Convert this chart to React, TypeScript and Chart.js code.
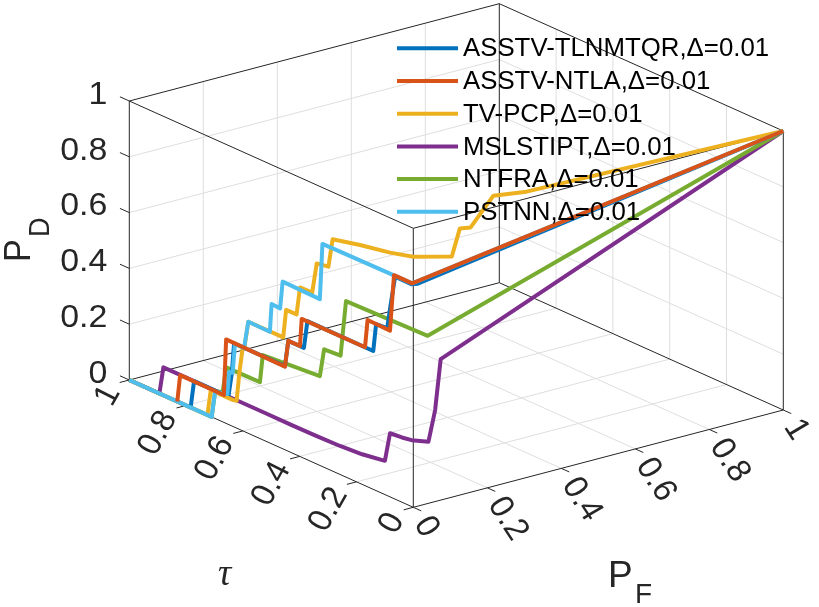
import { useEffect, useRef } from "react";
import { Chart, registerables } from "chart.js";

Chart.register(...registerables);

// each row is [P_F, tau, P_D]
const tlnmtqrCurve = [
  [0, 1, 0], [0, 0.784, 0], [0, 0.772, 0.1], [0, 0.651, 0.1], [0, 0.639, 0.189], [0, 0.631, 0.3],
  [0, 0.452, 0.3], [0, 0.44, 0.396], [0, 0.385, 0.396], [0, 0.373, 0.497], [0, 0.141, 0.496],
  [0, 0.131, 0.597], [0, 0.092, 0.6], [0, 0.079, 0.695], [0, 0.064, 0.797], [0, 0.005, 0.797],
  [0.012, 0, 0.797], [1, 0, 1],
];
const ntlaCurve = [
  [0, 0.831, 0], [0, 0.821, 0.099], [0, 0.667, 0.098], [0, 0.659, 0.301], [0, 0.452, 0.298],
  [0, 0.44, 0.396], [0, 0.399, 0.396], [0, 0.393, 0.496], [0, 0.17, 0.496], [0, 0.161, 0.598],
  [0, 0.082, 0.596], [0, 0.068, 0.801], [0, 0.004, 0.801], [1, 0, 1],
];
const tvPcpCurve = [
  [0, 1, 0], [0, 0.725, 0], [0, 0.713, 0.095], [0, 0.634, 0.095], [0, 0.622, 0.098], [0, 0.613, 0.197],
  [0, 0.601, 0.296], [0, 0.595, 0.3], [0, 0.581, 0.4], [0, 0.458, 0.4], [0, 0.448, 0.503],
  [0, 0.411, 0.504], [0, 0.399, 0.606], [0, 0.356, 0.607], [0, 0.34, 0.719], [0, 0.299, 0.726],
  [0.033, 0.327, 0.8], [0.058, 0.263, 0.8], [0.08, 0.186, 0.8], [0.104, 0.136, 0.8], [0.17, 0.086, 0.8],
  [0.185, 0.077, 0.9], [0.207, 0.068, 0.9], [0.271, 0.071, 0.99], [0.332, 0.034, 1], [1, 0, 1],
];
const mslstiptCurve = [
  [0, 1, 0], [0, 0.894, 0], [0, 0.88, 0.1], [0, 0.622, 0.1], [0, 0.52, 0.1], [0, 0.434, 0.099],
  [0, 0.34, 0.1], [0, 0.258, 0.102], [0, 0.18, 0.108], [0, 0.1, 0.121], [0, 0.082, 0.228],
  [0, 0.04, 0.232], [0, 0.006, 0.238], [0.041, 0, 0.221], [0.059, 0, 0.328], [0.074, 0, 0.505], [1, 0, 1],
];
const ntfraCurve = [
  [0, 1, 0], [0, 0.71, 0], [0, 0.698, 0.096], [0, 0.671, 0.108], [0, 0.659, 0.201], [0, 0.54, 0.202],
  [0, 0.53, 0.304], [0, 0.329, 0.32], [0, 0.314, 0.423], [0, 0.256, 0.427], [0, 0.237, 0.631],
  [0.039, 0, 0.601], [1, 0, 1],
];
const pstnnCurve = [
  [0, 1, 0], [0, 0.71, 0], [0, 0.698, 0.096], [0, 0.655, 0.107], [0, 0.648, 0.19], [0, 0.636, 0.192],
  [0, 0.628, 0.299], [0, 0.596, 0.298], [0, 0.581, 0.4], [0, 0.505, 0.399], [0, 0.499, 0.501],
  [0, 0.469, 0.499], [0, 0.46, 0.599], [0, 0.329, 0.596], [0, 0.32, 0.798], [0, 0.004, 0.801], [1, 0, 1],
];

const seriesNames = [
  "ASSTV-TLNMTQR,Δ=0.01",
  "ASSTV-NTLA,Δ=0.01",
  "TV-PCP,Δ=0.01",
  "MSLSTIPT,Δ=0.01",
  "NTFRA,Δ=0.01",
  "PSTNN,Δ=0.01",
];
const seriesCurves = [tlnmtqrCurve, ntlaCurve, tvPcpCurve, mslstiptCurve, ntfraCurve, pstnnCurve];
const seriesColors = ["#0072BD", "#D95319", "#EDB120", "#7E2F8E", "#77AC30", "#4DBEEE"];
const seriesOrder = [5, 1, 4, 7, 6, 2]; // lower is painted later

const tickValues = [0, 0.2, 0.4, 0.6, 0.8, 1];
const tickLabels = ["0", "0.2", "0.4", "0.6", "0.8", "1"];

const TEXT_COLOR = "#262626";
const GRID_COLOR = "#dedede";
const STRETCH = 1.06; // the reference was stretched sideways
const LINE_WIDTH = 4;

// orthographic view of the unit cube, in chart units
const project = (pf: number, tau: number, pd: number) => ({
  x: 370 * pf - 284 * tau,
  y: 97.3 * pf + 127.3 * tau + 279 * pd,
});

const makeLine = (rows: number[][], color: string, width: number, order: number) => ({
  data: rows.map((r) => project(r[0], r[1], r[2])),
  borderColor: color,
  borderWidth: width,
  showLine: true,
  pointRadius: 0,
  order,
  borderJoinStyle: "round" as const,
});

const gridSegments = () => {
  const out: number[][][] = [];
  tickValues.slice(1, 5).forEach((v) => {
    out.push([[v, 0, 0], [v, 1, 0]]);
    out.push([[0, v, 0], [1, v, 0]]);
    out.push([[v, 1, 0], [v, 1, 1]]);
    out.push([[1, v, 0], [1, v, 1]]);
    out.push([[0, 1, v], [1, 1, v]]);
    out.push([[1, 0, v], [1, 1, v]]);
  });
  return out;
};

const boxSegments = () => {
  const out: number[][][] = [];
  [0, 1].forEach((a) => {
    [0, 1].forEach((b) => {
      out.push([[0, a, b], [1, a, b]]);
      out.push([[a, 0, b], [a, 1, b]]);
      out.push([[a, b, 0], [a, b, 1]]);
    });
  });
  return out;
};

const tickSegments = () => {
  const out: number[][][] = [];
  tickValues.forEach((v) => {
    out.push([[0, 1, v], [0, 1.033, v]]);
    out.push([[0, v, 0], [-0.026, v, 0]]);
    out.push([[v, 0, 0], [v, -0.028, 0]]);
  });
  return out;
};

const drawText = (
  ctx: CanvasRenderingContext2D,
  text: string,
  x: number,
  y: number,
  font: string,
  align: CanvasTextAlign,
  rotation: number,
  color = TEXT_COLOR,
  baseline: CanvasTextBaseline = "middle",
  stretch = STRETCH
) => {
  ctx.save();
  ctx.translate(x, y);
  ctx.scale(stretch, 1);
  ctx.rotate((rotation * Math.PI) / 180);
  ctx.font = font;
  ctx.fillStyle = color;
  ctx.textAlign = align;
  ctx.textBaseline = baseline;
  ctx.fillText(text, 0, 0);
  ctx.restore();
};

const labelsPlugin = {
  id: "labels3d",
  afterDraw(chart: Chart) {
    const ctx = chart.ctx;
    const at = (pf: number, tau: number, pd: number) => {
      const p = project(pf, tau, pd);
      return { x: chart.scales.x.getPixelForValue(p.x), y: chart.scales.y.getPixelForValue(p.y) };
    };
    const tickFont = '32px "Liberation Sans"';

    tickValues.forEach((v, i) => {
      const a = at(0, 1, v);
      drawText(ctx, tickLabels[i], a.x - 22, a.y - 6, tickFont, "right", 0);
      const b = at(0, v, 0);
      drawText(ctx, tickLabels[i], b.x - 17, b.y + 8, tickFont, "right", -62);
      const c = at(v, 0, 0);
      drawText(ctx, tickLabels[i], c.x + 8, c.y + 12, tickFont, "left", 58);
    });

    drawText(ctx, "P", 30, 262, '34px "Liberation Sans"', "left", -90, TEXT_COLOR, "alphabetic");
    drawText(ctx, "D", 49, 237, '27px "Liberation Sans"', "left", -90, TEXT_COLOR, "alphabetic");
    drawText(ctx, "P", 608, 587, '37px "Liberation Sans"', "left", 0, TEXT_COLOR, "alphabetic", 1);
    drawText(ctx, "F", 635, 603, '28px "Liberation Sans"', "left", 0, TEXT_COLOR, "alphabetic", 1);
    drawText(ctx, "τ", 218, 585, 'italic 37px "Liberation Serif"', "left", 0, TEXT_COLOR, "alphabetic", 1);

    seriesNames.forEach((name, i) => {
      const y = 48.3 + i * 32.7;
      ctx.save();
      ctx.strokeStyle = seriesColors[i];
      ctx.lineWidth = LINE_WIDTH;
      ctx.beginPath();
      ctx.moveTo(397, y);
      ctx.lineTo(458, y);
      ctx.stroke();
      ctx.restore();
      drawText(ctx, name, 463, y + 1, '25.8px "Liberation Sans"', "left", 0, "#000000", "middle", 1);
    });
  },
};

export default function App() {
  const canvasRef = useRef<HTMLCanvasElement>(null);

  useEffect(() => {
    if (!canvasRef.current) return;

    const datasets = [
      ...gridSegments().map((s) => makeLine(s, GRID_COLOR, 1, 30)),
      ...boxSegments().map((s) => makeLine(s, TEXT_COLOR, 1, 20)),
      ...tickSegments().map((s) => makeLine(s, TEXT_COLOR, 1, 20)),
      ...seriesCurves.map((c, i) => makeLine(c, seriesColors[i], LINE_WIDTH, seriesOrder[i])),
    ];

    const chart = new Chart(canvasRef.current, {
      type: "scatter",
      data: { datasets },
      options: {
        responsive: false,
        animation: false,
        layout: { padding: 0 },
        plugins: { legend: { display: false }, tooltip: { enabled: false } },
        scales: {
          x: { type: "linear", display: false, min: -413.3, max: 405.7 },
          y: { type: "linear", display: false, min: -99.7, max: 507.3 },
        },
      },
      plugins: [labelsPlugin],
    });

    return () => {
      chart.destroy();
    };
  }, []);

  return (
    <div style={{ position: "absolute", left: 0, top: 0, width: 819, height: 607, background: "#fff" }}>
      <canvas ref={canvasRef} width={819} height={607} />
    </div>
  );
}
